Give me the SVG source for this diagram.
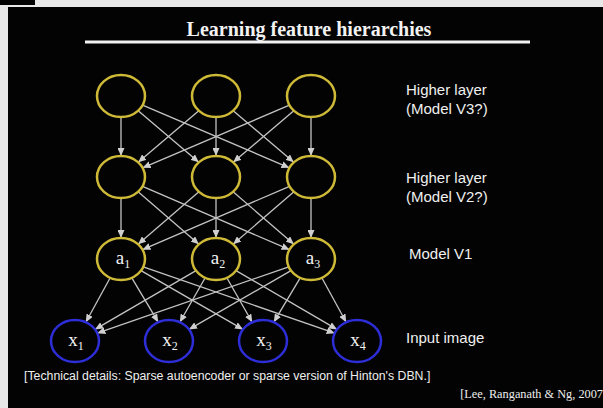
<svg xmlns="http://www.w3.org/2000/svg" width="603" height="408" viewBox="0 0 603 408">
<defs>
<style>
.y{fill:none;stroke:#cfba38;stroke-width:2.5}
.b{fill:none;stroke:#2e2ed8;stroke-width:2.5}
.lbl{font-family:"Liberation Serif","Times New Roman",serif;font-size:19px;fill:#f2f2f2;text-anchor:middle}
.side{font-family:"Liberation Sans",Arial,sans-serif;font-size:15px;fill:#f0f0f0}
#edges line{stroke:#c4c4c4;stroke-width:1.3;marker-end:url(#ah)}
</style>
<marker id="ah" markerUnits="userSpaceOnUse" markerWidth="9" markerHeight="7" refX="8" refY="3.5" orient="auto">
<path d="M0,0 L8,3.5 L0,7 z" fill="#cfcfcf"/>
</marker>
</defs>
<rect x="0" y="0" width="603" height="408" fill="#e8e8e8"/>
<rect x="8" y="7" width="595" height="401" fill="#030303"/>
<rect x="0" y="0" width="35" height="5" fill="#030303"/>
<text x="309" y="36" font-family="Liberation Serif,'Times New Roman',serif" font-size="20" font-weight="bold" fill="#f2f2f2" text-anchor="middle">Learning feature hierarchies</text>
<line x1="85" y1="42" x2="530" y2="42" stroke="#f2f2f2" stroke-width="3"/>
<g id="edges">
<line x1="121" y1="117" x2="121" y2="156"/>
<line x1="138.2" y1="110.7" x2="198.8" y2="162.3"/>
<line x1="142.6" y1="105.2" x2="289.4" y2="167.8"/>
<line x1="198.8" y1="110.7" x2="138.2" y2="162.3"/>
<line x1="216" y1="117" x2="216" y2="156"/>
<line x1="233.2" y1="110.7" x2="293.8" y2="162.3"/>
<line x1="289.4" y1="105.2" x2="142.6" y2="167.8"/>
<line x1="293.8" y1="110.7" x2="233.2" y2="162.3"/>
<line x1="311" y1="117" x2="311" y2="156"/>
<line x1="121" y1="198" x2="121" y2="238"/>
<line x1="138.1" y1="191.7" x2="198.9" y2="244.3"/>
<line x1="142.5" y1="186.3" x2="289.5" y2="249.7"/>
<line x1="198.9" y1="191.7" x2="138.1" y2="244.3"/>
<line x1="216" y1="198" x2="216" y2="238"/>
<line x1="233.1" y1="191.7" x2="293.9" y2="244.3"/>
<line x1="289.5" y1="186.3" x2="142.5" y2="249.7"/>
<line x1="293.9" y1="191.7" x2="233.1" y2="244.3"/>
<line x1="311" y1="198" x2="311" y2="238"/>
<line x1="110.2" y1="277.8" x2="85.8" y2="322.2"/>
<line x1="131.8" y1="277.8" x2="158.2" y2="322.2"/>
<line x1="141" y1="270.6" x2="243" y2="329.4"/>
<line x1="143.3" y1="266.8" x2="334.7" y2="333.2"/>
<line x1="196" y1="270.6" x2="95" y2="329.4"/>
<line x1="205.2" y1="277.8" x2="179.8" y2="322.2"/>
<line x1="226.8" y1="277.8" x2="252.2" y2="322.2"/>
<line x1="236" y1="270.6" x2="337" y2="329.4"/>
<line x1="288.7" y1="266.8" x2="97.3" y2="333.2"/>
<line x1="291" y1="270.6" x2="189" y2="329.4"/>
<line x1="300.2" y1="277.8" x2="273.8" y2="322.2"/>
<line x1="321.8" y1="277.8" x2="346.2" y2="322.2"/>
</g>
<g id="h3-1"><ellipse class="y" cx="121" cy="96" rx="24" ry="21"/></g>
<g id="h3-2"><ellipse class="y" cx="216" cy="96" rx="24" ry="21"/></g>
<g id="h3-3"><ellipse class="y" cx="311" cy="96" rx="24" ry="21"/></g>
<g id="h2-1"><ellipse class="y" cx="121" cy="177" rx="24" ry="21"/></g>
<g id="h2-2"><ellipse class="y" cx="216" cy="177" rx="24" ry="21"/></g>
<g id="h2-3"><ellipse class="y" cx="311" cy="177" rx="24" ry="21"/></g>
<g id="a1"><ellipse class="y" cx="121" cy="259" rx="24" ry="21"/><text class="lbl" x="123" y="264">a<tspan font-size="12" dy="4">1</tspan></text></g>
<g id="a2"><ellipse class="y" cx="216" cy="259" rx="24" ry="21"/><text class="lbl" x="218" y="264">a<tspan font-size="12" dy="4">2</tspan></text></g>
<g id="a3"><ellipse class="y" cx="311" cy="259" rx="24" ry="21"/><text class="lbl" x="313" y="264">a<tspan font-size="12" dy="4">3</tspan></text></g>
<g id="x1"><ellipse class="b" cx="75" cy="341" rx="24" ry="21"/><text class="lbl" x="76" y="346">x<tspan font-size="12" dy="4">1</tspan></text></g>
<g id="x2"><ellipse class="b" cx="169" cy="341" rx="24" ry="21"/><text class="lbl" x="170" y="346">x<tspan font-size="12" dy="4">2</tspan></text></g>
<g id="x3"><ellipse class="b" cx="263" cy="341" rx="24" ry="21"/><text class="lbl" x="264" y="346">x<tspan font-size="12" dy="4">3</tspan></text></g>
<g id="x4"><ellipse class="b" cx="357" cy="341" rx="24" ry="21"/><text class="lbl" x="358" y="346">x<tspan font-size="12" dy="4">4</tspan></text></g>
<text class="side" x="406" y="95">Higher layer</text>
<text class="side" x="406" y="114">(Model V3?)</text>
<text class="side" x="406" y="183">Higher layer</text>
<text class="side" x="406" y="202">(Model V2?)</text>
<text class="side" x="409" y="259">Model V1</text>
<text class="side" x="406" y="343">Input image</text>
<text x="24" y="380" font-family="Liberation Sans,Arial,sans-serif" font-size="12.3" fill="#eeeeee">[Technical details: Sparse autoencoder or sparse version of Hinton's DBN.]</text>
<text x="603" y="398" font-family="Liberation Serif,'Times New Roman',serif" font-size="12.3" fill="#eeeeee" text-anchor="end">[Lee, Ranganath &amp; Ng, 2007</text>
</svg>
